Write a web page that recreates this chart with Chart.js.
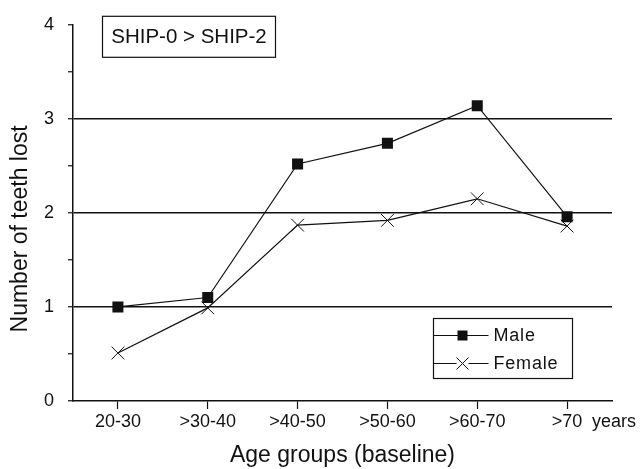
<!DOCTYPE html>
<html>
<head>
<meta charset="utf-8">
<script src="https://cdn.jsdelivr.net/npm/chart.js@4"></script>
<style>
html,body{margin:0;padding:0;background:#fff;}
#wrap{width:644px;height:469px;}
</style>
</head>
<body>
<div id="wrap"><canvas id="c" width="644" height="469"></canvas></div>
<script>
const categories = ['20-30', '>30-40', '>40-50', '>50-60', '>60-70', '>70'];
const maleValues = [1.00, 1.10, 2.52, 2.74, 3.14, 1.96];
const femaleValues = [0.51, 0.99, 1.87, 1.92, 2.15, 1.86];
const yTickLabels = [0, 1, 2, 3, 4];
const seriesNames = ['Male', 'Female'];
const panelTitle = 'SHIP-0 > SHIP-2';
const xUnit = 'years';
const yTitle = 'Number of teeth lost';
const xTitle = 'Age groups (baseline)';

const ink = '#111';
const FONT = 'Arial, "Liberation Sans", sans-serif';
const NARROW = '"Liberation Sans Narrow", "Arial Narrow", Arial, "Liberation Sans", sans-serif';

const extras = {
  id: 'extras',
  afterDraw(chart) {
    const ctx = chart.ctx;
    const ca = chart.chartArea;
    const xs = chart.scales.x;
    const ys = chart.scales.y;
    ctx.save();
    ctx.fillStyle = ink;
    ctx.strokeStyle = ink;
    ctx.lineWidth = 1;
    // y axis title
    ctx.save();
    ctx.translate(21, (ys.getPixelForValue(4) + ys.getPixelForValue(0)) / 2 + 16);
    ctx.rotate(-Math.PI / 2);
    ctx.font = '23px ' + FONT;
    ctx.textAlign = 'center';
    ctx.textBaseline = 'middle';
    ctx.fillText(yTitle, 0, 0);
    ctx.restore();
    // panel title box
    const bx = ca.left + 29.5, by = ca.top - 8.5, bw = 173, bh = 41;
    ctx.lineWidth = 1.2;
    ctx.strokeRect(bx, by, bw, bh);
    let fs = 25;
    ctx.font = fs + 'px ' + NARROW;
    while (ctx.measureText(panelTitle).width > 157 && fs > 12) {
      fs -= 0.5;
      ctx.font = fs + 'px ' + NARROW;
    }
    ctx.textAlign = 'center';
    ctx.textBaseline = 'middle';
    ctx.fillText(panelTitle, bx + bw / 2, by + bh / 2 + 1);
    // unit text after last category
    ctx.font = '18px ' + FONT;
    ctx.textAlign = 'left';
    ctx.fillText(xUnit, xs.getPixelForValue(categories.length - 1) + 25, ca.bottom + 21);
    // legend
    ctx.lineWidth = 1.2;
    const lx = 433.5, ly = 318.5, lw = 139, lh = 60;
    ctx.strokeRect(lx, ly, lw, lh);
    ctx.lineWidth = 1;
    const rows = [ly + 17, ly + 45];
    chart.data.datasets.forEach((ds, i) => {
      const y = rows[i];
      ctx.beginPath();
      ctx.moveTo(lx, y);
      ctx.lineTo(lx + 55, y);
      ctx.stroke();
      if (ds.pointStyle === 'rect') {
        ctx.fillRect(lx + 29 - 5, y - 5, 10, 10);
      } else {
        ctx.fillStyle = '#fff';
        ctx.fillRect(lx + 29 - 6, y - 6, 12, 12);
        ctx.fillStyle = ink;
        ctx.beginPath();
        ctx.moveTo(lx + 29 - 6, y - 6); ctx.lineTo(lx + 29 + 6, y + 6);
        ctx.moveTo(lx + 29 + 6, y - 6); ctx.lineTo(lx + 29 - 6, y + 6);
        ctx.stroke();
      }
      ctx.font = '18px ' + FONT;
      try { ctx.letterSpacing = '0.8px'; } catch (e) {}
      ctx.textAlign = 'left';
      ctx.textBaseline = 'middle';
      ctx.fillText(ds.label, lx + 60, y + 1);
      try { ctx.letterSpacing = '0px'; } catch (e) {}
    });
    ctx.restore();
  }
};

new Chart(document.getElementById('c'), {
  type: 'line',
  data: {
    labels: categories,
    datasets: [
      {
        label: seriesNames[0],
        data: maleValues,
        borderColor: ink,
        borderWidth: 1.2,
        backgroundColor: ink,
        pointStyle: 'rect',
        pointRadius: 7.8,
        pointBorderWidth: 0,
        pointBackgroundColor: ink,
        tension: 0
      },
      {
        label: seriesNames[1],
        data: femaleValues,
        borderColor: ink,
        borderWidth: 1.2,
        backgroundColor: ink,
        pointStyle: 'crossRot',
        pointRadius: 9,
        pointBorderWidth: 1,
        pointBorderColor: ink,
        tension: 0
      }
    ]
  },
  options: {
    responsive: false,
    animation: false,
    devicePixelRatio: 1,
    layout: { padding: { left: 0, right: 32, top: 23, bottom: 0 } },
    plugins: {
      legend: { display: false },
      tooltip: { enabled: false }
    },
    scales: {
      x: {
        type: 'category',
        offset: true,
        grid: {
          offset: false,
          drawOnChartArea: false,
          tickLength: 8,
          tickColor: ink,
          tickWidth: 1.2
        },
        border: { display: true, color: ink, width: 1.5 },
        ticks: {
          color: ink,
          font: { family: FONT, size: 18 },
          padding: 2,
          maxRotation: 0,
          autoSkip: false
        },
        title: {
          display: true,
          text: xTitle,
          color: ink,
          font: { family: FONT, size: 23, lineHeight: 0.8 },
          padding: { top: 4, bottom: 4 }
        },
        afterFit(s) { s.height = 68; }
      },
      y: {
        min: 0,
        max: 4,
        grid: {
          color: (c) => (c.tick && [1, 2, 3].includes(c.tick.value)) ? ink : 'rgba(0,0,0,0)',
          lineWidth: 1.5,
          tickLength: 5,
          tickColor: ink,
          tickWidth: 1.2
        },
        border: { display: true, color: ink, width: 1.5 },
        ticks: {
          stepSize: 0.5,
          color: ink,
          font: { family: FONT, size: 18 },
          padding: 14,
          callback: (v) => yTickLabels.includes(v) ? String(v) : ''
        },
        title: { display: false },
        afterFit(s) { s.width = 73; }
      }
    }
  },
  plugins: [extras]
});
</script>
</body>
</html>
